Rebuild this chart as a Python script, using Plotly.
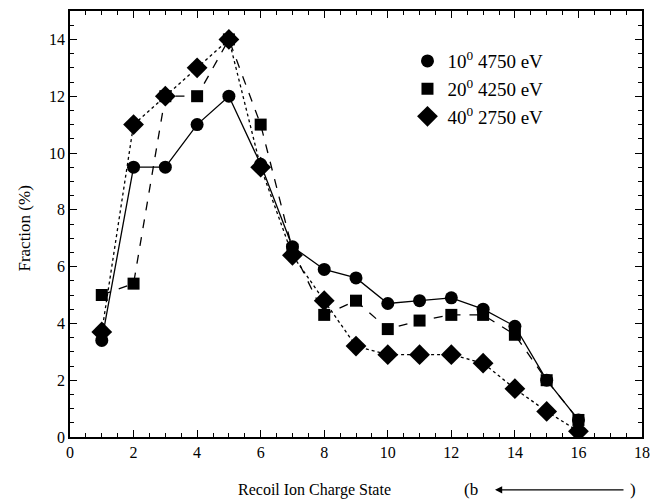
import plotly.graph_objects as go

charge = list(range(1, 17))
s10 = [3.4, 9.5, 9.5, 11.0, 12.0, 9.6, 6.7, 5.9, 5.6, 4.7, 4.8, 4.9, 4.5, 3.9, 2.0, 0.6]
s20 = [5.0, 5.4, 12.0, 12.0, 14.0, 11.0, 6.6, 4.3, 4.8, 3.8, 4.1, 4.3, 4.3, 3.6, 2.0, 0.6]
s40 = [3.7, 11.0, 12.0, 13.0, 14.0, 9.5, 6.4, 4.8, 3.2, 2.9, 2.9, 2.9, 2.6, 1.7, 0.9, 0.2]
names = ["10<sup>0</sup> 4750 eV", "20<sup>0</sup> 4250 eV", "40<sup>0</sup> 2750 eV"]

font = "Liberation Serif, Times New Roman, serif"
series = [(s10, "solid", "circle", 13), (s20, "dash", "square", 12), (s40, "dot", "diamond", 16)]

fig = go.Figure()
for (vals, dash, sym, size), nm in zip(series, names):
    fig.add_trace(go.Scatter(x=charge, y=vals, name=nm, mode="lines+markers", showlegend=False,
                             line=dict(color="black", width=1.3, dash=dash),
                             marker=dict(symbol=sym, size=size, color="black")))
for (vals, dash, sym, size), nm in zip(series, names):
    fig.add_trace(go.Scatter(x=[None], y=[None], name=nm, mode="markers",
                             marker=dict(symbol=sym, size=size, color="black")))

axis_common = dict(showgrid=False, zeroline=False, showline=True, linecolor="black",
                   linewidth=1.5, mirror="ticks", ticks="inside", ticklen=7,
                   tickcolor="black", tickwidth=1.2, automargin=False,
                   tickfont=dict(family=font, size=16, color="black"))
fig.update_xaxes(range=[0, 18], dtick=2, tick0=0,
                 minor=dict(dtick=0.5, ticks="inside", ticklen=4, tickcolor="black"),
                 **axis_common)
fig.update_yaxes(range=[0, 15], tickvals=[0, 2, 4, 6, 8, 10, 12, 14],
                 minor=dict(dtick=0.5, ticks="inside", ticklen=4, tickcolor="black"),
                 **axis_common)

fig.update_layout(
    width=653, height=499,
    margin=dict(l=70, r=11, t=11, b=62),
    plot_bgcolor="white", paper_bgcolor="white",
    font=dict(family=font, size=16, color="black"),
    legend=dict(x=0.59, y=0.927, xanchor="left", yanchor="top",
                bgcolor="rgba(0,0,0,0)", font=dict(family=font, size=19),
                itemwidth=30, tracegroupgap=0),
    showlegend=True,
)
fig.add_annotation(text="Fraction (%)", xref="paper", yref="paper", x=-0.1, y=0.49,
                   textangle=-90, showarrow=False, font=dict(family=font, size=17))
fig.add_annotation(text="Recoil Ion Charge State", xref="paper", yref="paper",
                   x=0.428, y=-0.124, yanchor="middle", showarrow=False,
                   font=dict(family=font, size=16))
fig.add_annotation(text="(b", xref="paper", yref="paper", x=0.717, y=-0.124,
                   yanchor="middle", showarrow=False, font=dict(family=font, size=17))
fig.add_annotation(text=")", xref="paper", yref="paper", x=0.993, y=-0.124,
                   yanchor="middle", showarrow=False, font=dict(family=font, size=17))
fig.add_annotation(text="", xref="paper", yref="paper", x=0.743, y=-0.124,
                   ax=130, ay=0, axref="pixel", ayref="pixel",
                   showarrow=True, arrowhead=2, arrowsize=1.2, arrowwidth=1.2,
                   arrowcolor="black")

fig.write_html("out.html", config={"displayModeBar": False},
               post_script="document.body.style.margin='0px';")
